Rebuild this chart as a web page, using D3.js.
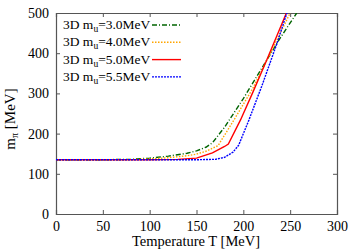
<!DOCTYPE html>
<html><head><meta charset="utf-8">
<script src="https://cdn.jsdelivr.net/npm/d3@7"></script>
<style>body{margin:0;background:#fff}svg text{font-family:"Liberation Serif","DejaVu Serif",serif;}</style>
</head><body><svg id="c" width="358" height="251"></svg>
<script>
const xTicks=[0,50,100,150,200,250,300];
const yTicks=[0,100,200,300,400,500];
const labels=["3D m_u=3.0MeV","3D m_u=4.0MeV","3D m_u=5.0MeV","3D m_u=5.5MeV"];
const T30=[0,50,80,100,120,140,150,160,167,180,200,225,240,257];
const M30=[135,135,136,139,144,151,157,166,177,216,287,383,440,500];
const T40=[0,50,80,100,120,140,150,160,173,190,210,230,250];
const M40=[135,135,135,137,140,145,149,156,170,234,312,405,500];
const T50=[0,100,130,150,167,180,184,197,210,225,246];
const M50=[135,135,136,139,152,168,174,234,302,383,500];
const T55=[0,150,170,180,189,195,206,220,236,246.5];
const M55=[135,135,136,141,154,171,234,320,425,500];
const series=[
 {T:T30,M:M30,color:"#006400",dash:"5,2,1,2"},
 {T:T40,M:M40,color:"#ffa500",dash:"1.5,1.5"},
 {T:T50,M:M50,color:"#ff0000",dash:null},
 {T:T55,M:M55,color:"#0000ff",dash:"2,1"}
];
const svg=d3.select("#c");
const L=56,R=337,Tp=13,B=214;
const x=d3.scaleLinear().domain([0,300]).range([L,R]);
const y=d3.scaleLinear().domain([0,500]).range([B,Tp]);
const axc="#555";
svg.append("defs").append("clipPath").attr("id","cp").append("rect").attr("x",L).attr("y",Tp).attr("width",R-L).attr("height",B-Tp);
const gx=svg.append("g").attr("transform",`translate(0,${B})`).call(d3.axisBottom(x).tickValues(xTicks).tickSize(-4).tickPadding(7));
const gxt=svg.append("g").attr("transform",`translate(0,${Tp})`).call(d3.axisTop(x).tickValues(xTicks).tickSize(-4).tickFormat(""));
const gy=svg.append("g").attr("transform",`translate(${L},0)`).call(d3.axisLeft(y).tickValues(yTicks).tickSize(-4).tickPadding(7));
const gyr=svg.append("g").attr("transform",`translate(${R},0)`).call(d3.axisRight(y).tickValues(yTicks).tickSize(-4).tickFormat(""));
[gx,gxt,gy,gyr].forEach(g=>{g.select(".domain").attr("stroke",axc).attr("stroke-width",1.2);g.selectAll(".tick line").attr("stroke",axc);g.selectAll("text").attr("fill","#000").style("font-size","14px").style("font-family","Liberation Serif");});
const line=d3.line().x(d=>x(d[0])).y(d=>y(d[1]));
const gl=svg.append("g").attr("clip-path","url(#cp)");
series.forEach(s=>{
 const pts=s.T.map((t,i)=>[t,s.M[i]]);
 gl.append("path").attr("d",line(pts)).attr("fill","none").attr("stroke",s.color).attr("stroke-width",1.4).attr("stroke-dasharray",s.dash);
});
labels.forEach((lb,i)=>{
 const yy=25+i*17.3;
 const t=svg.append("text").attr("x",63).attr("y",yy+4).style("font-size","13.5px");
 const p=lb.split("_");
 t.append("tspan").text(p[0]);
 const rest=p[1];
 t.append("tspan").attr("dy",3).style("font-size","9.5px").text(rest[0]);
 t.append("tspan").attr("dy",-3).text(rest.slice(1));
 svg.append("line").attr("x1",152).attr("x2",181).attr("y1",yy).attr("y2",yy).attr("stroke",series[i].color).attr("stroke-width",1.4).attr("stroke-dasharray",series[i].dash);
});
svg.append("text").attr("x",196).attr("y",246).attr("text-anchor","middle").style("font-size","14.5px").text("Temperature T [MeV]");
const yl=svg.append("text").attr("transform","translate(15,119) rotate(-90)").attr("text-anchor","middle").style("font-size","15px");
yl.append("tspan").text("m");
yl.append("tspan").attr("dy",3).style("font-size","10px").text("π");
yl.append("tspan").attr("dy",-3).text(" [MeV]");
</script></body></html>
